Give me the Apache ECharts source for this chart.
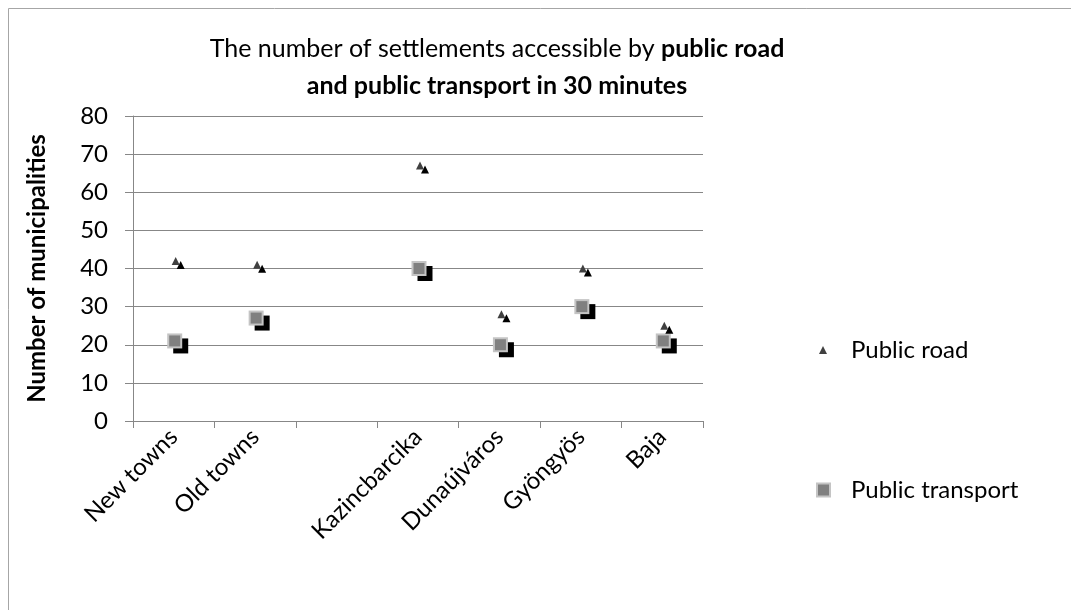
<!DOCTYPE html>
<html>
<head>
<meta charset="utf-8">
<script src="https://cdn.jsdelivr.net/npm/echarts@6/dist/echarts.min.js"></script>
<style>
  html, body { margin: 0; padding: 0; background: #fff; }
  #chart { width: 1071px; height: 610px; }
</style>
</head>
<body>
<div id="chart"></div>
<script>
// Towns compared; the blank slot separates the grouped towns from individual ones
const categories = ['New towns', 'Old towns', '', 'Kazincbarcika', 'Dunaújváros', 'Gyöngyös', 'Baja'];
const publicRoad = [42, 41, null, 67, 28, 40, 25];
const publicTransport = [21, 27, null, 40, 20, 30, 21];
const yTicks = { min: 0, max: 80, interval: 10 };

const FONT = 'Lato, "Open Sans", sans-serif';
const FS = 24;

const chart = echarts.init(document.getElementById('chart'), null, { renderer: 'canvas' });

chart.setOption({
  backgroundColor: '#fff',
  animation: false,
  textStyle: { fontFamily: FONT, color: '#000' },
  graphic: [{
    type: 'rect',
    shape: { x: 8.5, y: 8.5, width: 1200, height: 800 },
    style: { fill: 'none', stroke: '#a6a6a6', lineWidth: 1 },
    silent: true
  }],
  title: {
    text: '{n|The number of settlements accessible by }{b|public road}\n{b|and public transport in 30 minutes}',
    left: 492,
    top: 25,
    textAlign: 'center',
    textStyle: {
      rich: {
        n: { fontFamily: FONT, fontSize: 25, fontWeight: 'normal', color: '#000', lineHeight: 37 },
        b: { fontFamily: FONT, fontSize: 25, fontWeight: 'bold', color: '#000', lineHeight: 37 }
      }
    }
  },
  legend: [{
    orient: 'vertical',
    left: 814,
    top: 333,
    itemWidth: 8,
    itemHeight: 8,
    data: [{ name: 'Public road', itemStyle: { color: '#404040', shadowColor: 'rgba(0,0,0,0)' } }],
    textStyle: { fontFamily: FONT, fontSize: FS, color: '#000', padding: [0, 0, 0, 19] }
  }, {
    orient: 'vertical',
    left: 811,
    top: 473,
    itemWidth: 13,
    itemHeight: 13,
    data: [{ name: 'Public transport', icon: 'rect',
      itemStyle: { color: '#808080', borderColor: '#c4c4c4', borderWidth: 2, shadowColor: 'rgba(0,0,0,0)' } }],
    textStyle: { fontFamily: FONT, fontSize: FS, color: '#000', padding: [0, 0, 0, 16] }
  }],
  grid: { left: 133, right: 368, top: 116, bottom: 189, containLabel: false },
  xAxis: {
    type: 'category',
    data: categories,
    boundaryGap: true,
    axisLine: { lineStyle: { color: '#878787', width: 1 } },
    axisTick: { show: true, alignWithLabel: false, length: 7, lineStyle: { color: '#878787' } },
    axisLabel: {
      interval: 0,
      rotate: 45,
      margin: 12,
      fontFamily: FONT,
      fontSize: FS,
      color: '#000'
    },
    splitLine: { show: false }
  },
  yAxis: {
    type: 'value',
    min: yTicks.min,
    max: yTicks.max,
    interval: yTicks.interval,
    name: 'Number of municipalities',
    nameLocation: 'middle',
    nameGap: 84,
    nameRotate: 90,
    nameTextStyle: { fontFamily: FONT, fontSize: FS, fontWeight: 'bold', color: '#000' },
    axisLine: { show: true, lineStyle: { color: '#878787', width: 1 } },
    axisTick: { show: true, length: 8, lineStyle: { color: '#878787' } },
    axisLabel: { margin: 25, fontFamily: FONT, fontSize: FS, color: '#000' },
    splitLine: { show: true, lineStyle: { color: '#878787', width: 1 } }
  },
  series: [{
    name: 'Public road',
    type: 'scatter',
    data: publicRoad,
    symbol: 'triangle',
    symbolSize: 8,
    symbolOffset: [2, 0],
    itemStyle: {
      color: '#404040',
      opacity: 1,
      shadowColor: '#000',
      shadowBlur: 0,
      shadowOffsetX: 5,
      shadowOffsetY: 4
    },
    z: 3
  }, {
    // light outer frame of each square, casting the black drop shadow
    name: 'Public transport',
    type: 'scatter',
    data: publicTransport,
    symbol: 'rect',
    symbolSize: 15,
    symbolOffset: [1, 0],
    itemStyle: {
      color: '#c4c4c4',
      opacity: 1,
      shadowColor: '#000',
      shadowBlur: 0,
      shadowOffsetX: 6,
      shadowOffsetY: 5
    },
    z: 2
  }, {
    // grey fill of each square
    name: 'Public transport',
    type: 'scatter',
    data: publicTransport,
    symbol: 'rect',
    symbolSize: 11,
    symbolOffset: [1, 0],
    itemStyle: { color: '#808080', opacity: 1 },
    z: 2.5
  }]
});
</script>
</body>
</html>
